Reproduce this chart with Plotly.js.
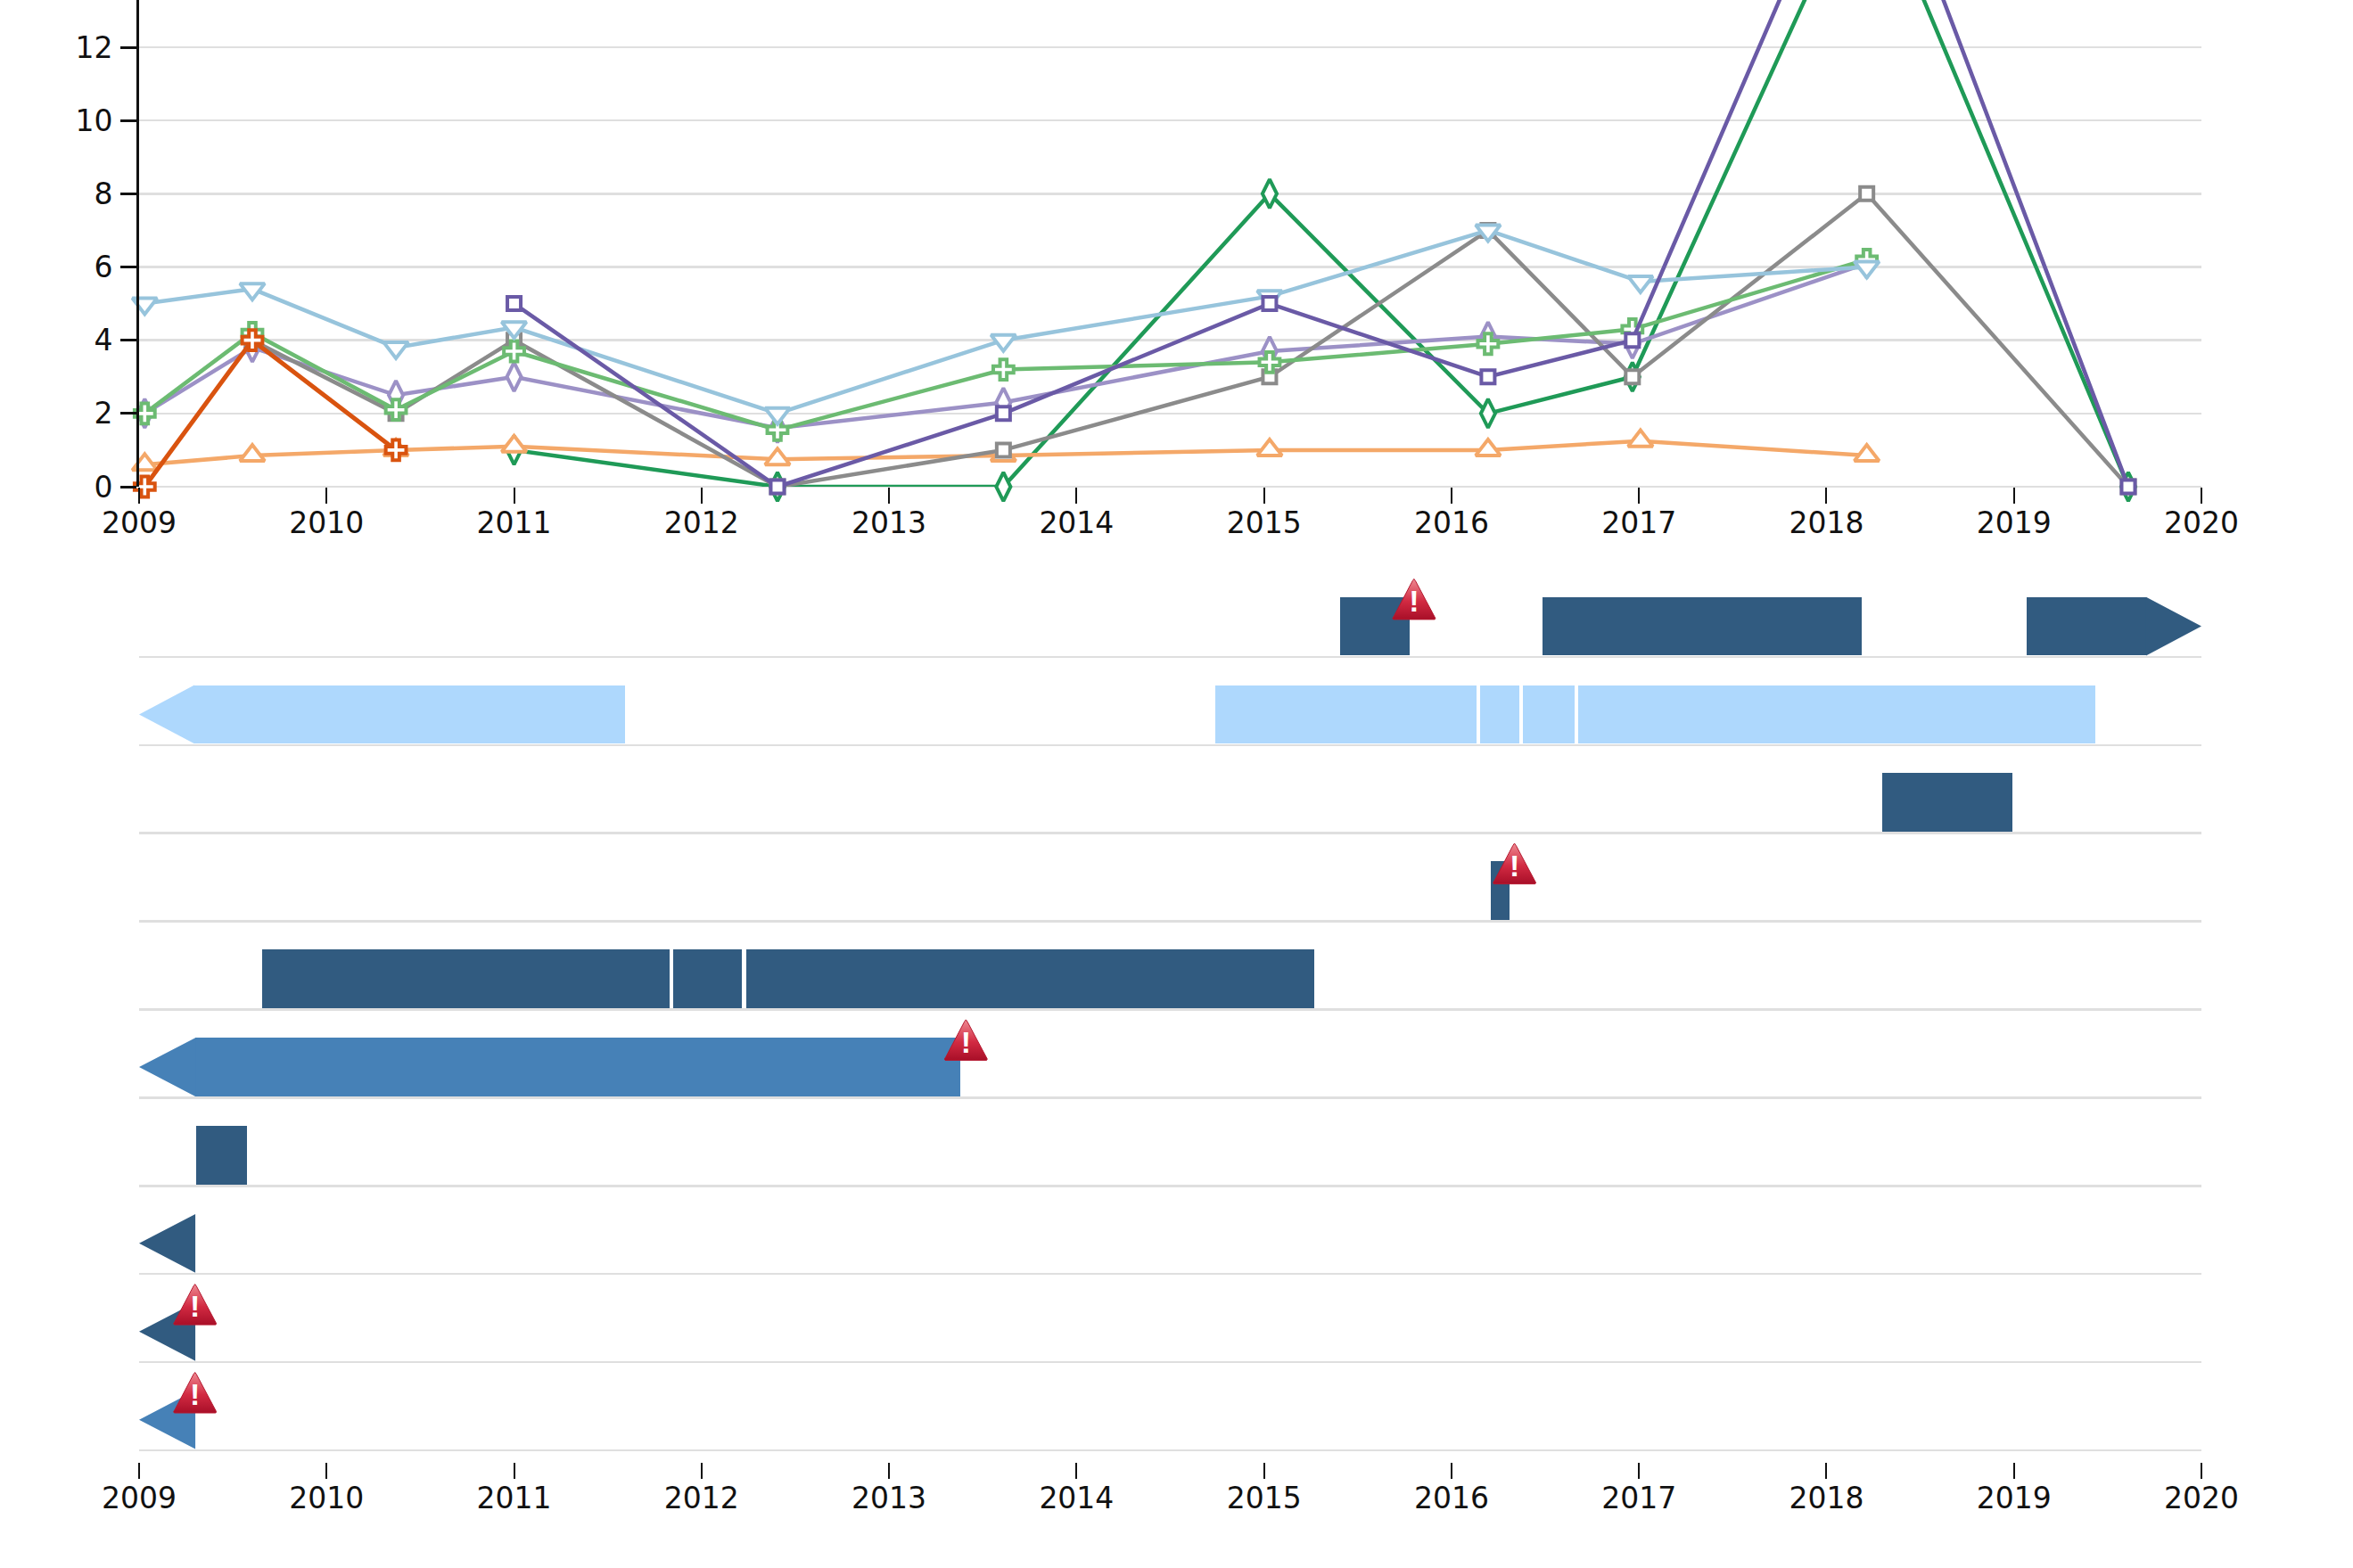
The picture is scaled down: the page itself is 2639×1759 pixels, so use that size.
<!DOCTYPE html>
<html>
<head>
<meta charset="utf-8">
<script src="https://cdn.plot.ly/plotly-3.0.1.min.js"></script>
<style>html,body{margin:0;padding:0;background:#fff;overflow:hidden}</style>
</head>
<body>
<div id="chart" style="width:2639px;height:1759px"></div>
<script>
// ---- Line chart data (decimal years) ----
var xMain = [2009.03, 2009.604, 2010.37, 2011.0, 2012.405, 2013.61, 2015.03, 2016.195, 2016.965, 2018.215];
var xAlt  = [2009.03, 2009.604, 2010.37, 2011.0, 2012.405, 2013.61, 2015.03, 2016.195, 2017.008, 2018.215];

var skyValues      = [5, 5.4, 3.8, 4.35, 2, 4, 5.2, 7, 5.6, 6];
var apricotValues  = [0.6, 0.85, 1, 1.1, 0.75, 0.85, 1, 1, 1.25, 0.85];
var meadowValues   = [2, 4.2, 2.1, 3.7, 1.55, 3.2, 3.4, 3.9, 4.3, 6.2];
var lavenderValues = [2, 3.8, 2.5, 3, 1.6, 2.3, 3.7, 4.1, 3.9, 6.1];

var greyX      = [2009.604, 2010.37, 2011.0, 2012.405, 2013.61, 2015.03, 2016.195, 2016.965, 2018.215, 2019.61];
var greyValues = [4, 2, 4, 0, 1, 3, 7, 3, 8, 0];
var forestX      = [2011.0, 2012.405, 2013.61, 2015.03, 2016.195, 2016.965, 2018.215, 2019.61];
var forestValues = [1, 0, 0, 8, 2, 3, 17, 0];
var indigoX      = [2011.0, 2012.405, 2013.61, 2015.03, 2016.195, 2016.965, 2018.215, 2019.61];
var indigoValues = [5, 0, 2, 5, 3, 4, 18.8, 0];
var rustX      = [2009.03, 2009.604, 2010.37];
var rustValues = [0, 4, 1];

var yearTicks = [2009,2010,2011,2012,2013,2014,2015,2016,2017,2018,2019,2020];
var valueTicks = [0,2,4,6,8,10,12];

// ---- Timeline data: row 9 is the top row, row 0 the bottom row ----
var rowLines = [0,1,2,3,4,5,6,7,8,9];

var navyRows   = [9, 9, 9, 7, 6, 5, 5, 5, 3];
var navyStarts = [2015.406, 2016.486, 2019.07, 2018.298, 2016.21, 2009.658, 2011.85, 2012.237, 2009.304];
var navyEnds   = [2015.777, 2018.188, 2019.705, 2018.99, 2016.31, 2011.83, 2012.217, 2015.27, 2009.574];

var paleRows   = [8, 8, 8, 8, 8];
var paleStarts = [2009.295, 2014.74, 2016.152, 2016.379, 2016.675];
var paleEnds   = [2011.59, 2016.133, 2016.36, 2016.656, 2019.434];

var steelRows   = [4];
var steelStarts = [2009.3];
var steelEnds   = [2013.38];

var navyHeadRows = [9, 2, 1];
var navyHeadTips = [2020, 2009, 2009];
var navyHeadBase = [2019.705, 2009.3, 2009.3];
var paleHeadRows = [8];
var paleHeadTips = [2009];
var paleHeadBase = [2009.295];
var steelHeadRows = [4, 0];
var steelHeadTips = [2009, 2009];
var steelHeadBase = [2009.3, 2009.3];

var warnYears = [2015.8, 2016.336, 2013.41, 2009.298, 2009.298];
var warnRows  = [9, 6, 4, 1, 0];
var warnMark  = '!';

// ---- Styling ----
var NAVY = '#315b80', PALE = '#aed8fd', STEEL = '#4681b7';
var GRID = '#dfdfdf', TEXT = '#111111', FONT = '"DejaVu Sans", Verdana, sans-serif';
var W = 2639, H = 1759, LEFT = 156, RIGHT = 2469;
var BAR_BOTTOM = 0.015, BAR_HEIGHT = 0.665;

function lineTrace(x, y, color, symbol, size, lw) {
  return {
    type: 'scatter', mode: 'lines+markers', x: x, y: y, xaxis: 'x', yaxis: 'y',
    cliponaxis: false, hoverinfo: 'skip',
    line: {color: color, width: lw || 4.5},
    marker: {symbol: symbol, size: size, color: '#ffffff', line: {color: color, width: 4}}
  };
}
function barTrace(rows, starts, ends, color) {
  return {
    type: 'bar', orientation: 'h', xaxis: 'x2', yaxis: 'y2', hoverinfo: 'skip',
    y: rows.map(function (r) { return r + BAR_BOTTOM + BAR_HEIGHT / 2; }),
    base: starts,
    x: ends.map(function (e, i) { return e - starts[i]; }),
    width: BAR_HEIGHT,
    marker: {color: color, line: {width: 0}}
  };
}
function headTrace(rows, tips, bases, color) {
  var xs = [], ys = [];
  rows.forEach(function (r, i) {
    xs.push(bases[i], tips[i], bases[i], bases[i], null);
    ys.push(r + BAR_BOTTOM, r + BAR_BOTTOM + BAR_HEIGHT / 2, r + BAR_BOTTOM + BAR_HEIGHT, r + BAR_BOTTOM, null);
  });
  return {
    type: 'scatter', mode: 'lines', x: xs, y: ys, xaxis: 'x2', yaxis: 'y2', hoverinfo: 'skip',
    fill: 'toself', fillcolor: color, line: {width: 0, color: color}
  };
}
function warnTrace(year, row) {
  var hw = 0.114, bottom = row + 0.425, h = 0.46;
  var px = [-0.07, 0, 0.07, 0.93, 1, 0.97, -0.97, -1, -0.93, -0.07];
  var py = [0.95, 1, 0.95, 0.09, 0.03, 0, 0, 0.03, 0.09, 0.95];
  return {
    type: 'scatter', mode: 'lines', xaxis: 'x2', yaxis: 'y2', hoverinfo: 'skip',
    x: px.map(function (v) { return year + v * hw; }),
    y: py.map(function (v) { return bottom + v * h; }),
    fill: 'toself',
    fillgradient: {type: 'vertical', colorscale: [[0, '#a80f28'], [0.45, '#d22a42'], [1, '#ee8a92']]},
    line: {width: 1, color: '#b5182f'}
  };
}

var traces = [
  lineTrace(forestX, forestValues, '#1f9a57', 'diamond-tall', 23),
  lineTrace(xAlt, apricotValues, '#f4a869', 'triangle-up', 24),
  lineTrace(xMain, lavenderValues, '#9c91c6', 'diamond-tall', 23),
  lineTrace(greyX, greyValues, '#8b8b8b', 'square', 15),
  lineTrace(xMain, meadowValues, '#6cbb72', 'cross', 19),
  lineTrace(xAlt, skyValues, '#97c4dc', 'triangle-down', 24),
  lineTrace(rustX, rustValues, '#d9530f', 'cross', 19, 5),
  lineTrace(indigoX, indigoValues, '#6a5aa6', 'square', 15),
  barTrace(paleRows, paleStarts, paleEnds, PALE),
  barTrace(navyRows, navyStarts, navyEnds, NAVY),
  barTrace(steelRows, steelStarts, steelEnds, STEEL),
  headTrace(paleHeadRows, paleHeadTips, paleHeadBase, PALE),
  headTrace(navyHeadRows, navyHeadTips, navyHeadBase, NAVY),
  headTrace(steelHeadRows, steelHeadTips, steelHeadBase, STEEL)
];
warnYears.forEach(function (y, i) { traces.push(warnTrace(y, warnRows[i])); });
traces.push({
  type: 'scatter', mode: 'text', xaxis: 'x2', yaxis: 'y2', hoverinfo: 'skip',
  x: warnYears, y: warnRows.map(function (r) { return r + 0.6; }),
  text: warnYears.map(function () { return warnMark; }),
  textposition: 'middle center',
  textfont: {family: '"Liberation Sans", Arial, sans-serif', size: 34, color: '#ffffff', weight: 700}
});

var xDomain = [LEFT / W, RIGHT / W];
var xCommon = {
  type: 'linear', range: [2009, 2020], tickmode: 'array', tickvals: yearTicks, ticktext: yearTicks.map(String),
  domain: xDomain, showgrid: false, zeroline: false, showline: false,
  ticks: 'outside', ticklen: 18, tickwidth: 2, tickcolor: '#111111', ticklabelstandoff: -7,
  tickfont: {family: FONT, size: 33, color: TEXT}
};
var layout = {
  width: W, height: H, margin: {l: 0, r: 0, t: 0, b: 0, pad: 0},
  paper_bgcolor: '#ffffff', plot_bgcolor: '#ffffff',
  showlegend: false, hovermode: false, barmode: 'overlay', bargap: 0,
  xaxis: Object.assign({anchor: 'y'}, xCommon),
  yaxis: {
    domain: [1 - 546 / H, 1], range: [0, 13.29], tickmode: 'array', tickvals: valueTicks,
    showline: true, linecolor: '#111111', linewidth: 3,
    ticks: 'outside', ticklen: 18, tickwidth: 3, tickcolor: '#111111', ticklabelstandoff: 2,
    tickfont: {family: FONT, size: 33, color: TEXT},
    showgrid: true, gridcolor: GRID, gridwidth: 2.5,
    zeroline: true, zerolinecolor: GRID, zerolinewidth: 2.5
  },
  xaxis2: Object.assign({anchor: 'y2'}, xCommon),
  yaxis2: {
    domain: [(H - 1640) / H, (H - 640) / H], range: [-0.131, 9.98],
    tickmode: 'array', tickvals: rowLines, showticklabels: false, ticks: '',
    showline: false, showgrid: true, gridcolor: GRID, gridwidth: 2.5, zeroline: false
  }
};
Plotly.newPlot('chart', traces, layout, {staticPlot: true, displayModeBar: false});
</script>
</body>
</html>
